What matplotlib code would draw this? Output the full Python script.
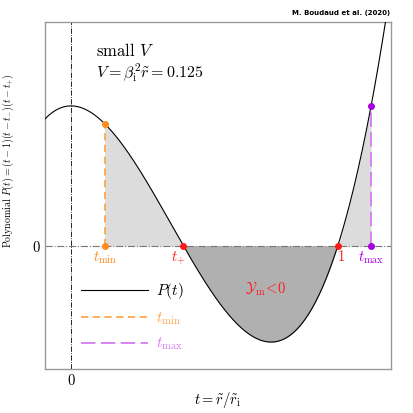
import numpy as np
import matplotlib
matplotlib.use('Agg')
import matplotlib.pyplot as plt
plt.rcParams['mathtext.fontset'] = 'cm'
plt.rcParams['font.family'] = 'cmr10'
plt.rcParams['axes.formatter.use_mathtext'] = True

# values
V = 0.125
t_minus = -0.2965
t_plus = 0.4215
t_one = 1.0
t_min = 0.126
t_max = 1.125
x_range = [-0.0975, 1.2]
y_range = [-0.11, 0.2]


def P(t):
    return (t - t_one) * (t - t_minus) * (t - t_plus)


fig = plt.figure(figsize=(4.13, 4.13), dpi=100)
ax = fig.add_axes([0.109, 0.1065, 0.838, 0.8405])

t = np.linspace(x_range[0], x_range[1], 600)
ax.plot(t, P(t), color='black', linewidth=0.8, zorder=4, label=r'$P(t)$')

# shaded areas
ta = np.linspace(t_min, t_plus, 200)
ax.fill_between(ta, 0, P(ta), color='#dcdcdc', linewidth=0, zorder=1)
tb = np.linspace(t_one, t_max, 200)
ax.fill_between(tb, 0, P(tb), color='#dcdcdc', linewidth=0, zorder=1)
tc = np.linspace(t_plus, t_one, 300)
ax.fill_between(tc, 0, P(tc), color='#b0b0b0', linewidth=0, zorder=1)

ax.axhline(0, color='#777777', linestyle='-.', linewidth=0.8, zorder=2)
ax.axvline(0, color='black', linestyle='-.', linewidth=0.6, zorder=2)

ax.plot([t_min, t_min], [0, P(t_min)], color='#ffa64d', linestyle=(0, (4, 2.5)),
        linewidth=1.3, zorder=3, label=r'$t_{\rm min}$')
ax.plot([t_max, t_max], [0, P(t_max)], color='#d67cf0', linestyle=(0, (8, 3)),
        linewidth=1.3, zorder=3, label=r'$t_{\rm max}$')
ax.plot([t_min, t_min], [0, P(t_min)], 'o', color='#ff8c1a', markersize=4, zorder=5)
ax.plot([t_max, t_max], [0, P(t_max)], 'o', color='#a800e0', markersize=4, zorder=5)
ax.plot([t_plus, t_one], [0, 0], 'o', color='#ff1a1a', markersize=4, zorder=5)

ax.text(t_min, -0.003, r'$t_{\rm min}$', color='#ff8c1a', fontsize=10.5, ha='center', va='top')
ax.text(t_plus - 0.02, -0.003, r'$t_{+}$', color='#ff1a1a', fontsize=10.5, ha='center', va='top')
ax.text(t_one + 0.012, -0.003, r'$1$', color='#ff1a1a', fontsize=10.5, ha='center', va='top')
ax.text(t_max, -0.003, r'$t_{\rm max}$', color='#a800e0', fontsize=10.5, ha='center', va='top')
ax.text(0.727, -0.0387, r'$\mathcal{Y}_{\rm m}\!<\!0$', color='#ff1a1a', fontsize=10.5, ha='center', va='center')

ax.text(0.095, 0.1748, r'small $V$', fontsize=12, ha='left', va='center')
ax.text(0.095, 0.155, r'$V = \beta_{\rm i}^2\tilde{r} = 0.125$', fontsize=11.5, ha='left', va='center')

lgd = ax.legend(loc='lower left', bbox_to_anchor=(0.065, 0.008), frameon=False, fontsize=11,
                handlelength=4.4, handletextpad=0.5, labelspacing=0.6, labelcolor='linecolor')

ax.set_xlim(x_range)
ax.set_ylim(y_range)
ax.set_xticks([0])
ax.set_yticks([0])
ax.tick_params(length=0, labelsize=10.5, pad=3)
for s in ax.spines.values():
    s.set_color('#999999')
    s.set_linewidth(1.0)

ax.set_xlabel(r'$t = \tilde{r}/\tilde{r}_{\rm i}$', fontsize=10.5, labelpad=1)
ax.set_ylabel(r'Polynomial $P(t) = (t-1)(t-t_{-})(t-t_{+})$', fontsize=7.2)
ax.yaxis.set_label_coords(-0.085, 0.6)
fig.text(0.945, 0.962, 'M. Boudaud et al. (2020)', fontsize=5, ha='right', va='bottom',
         family='DejaVu Sans', weight='bold')

fig.savefig('out.png', dpi=100)
